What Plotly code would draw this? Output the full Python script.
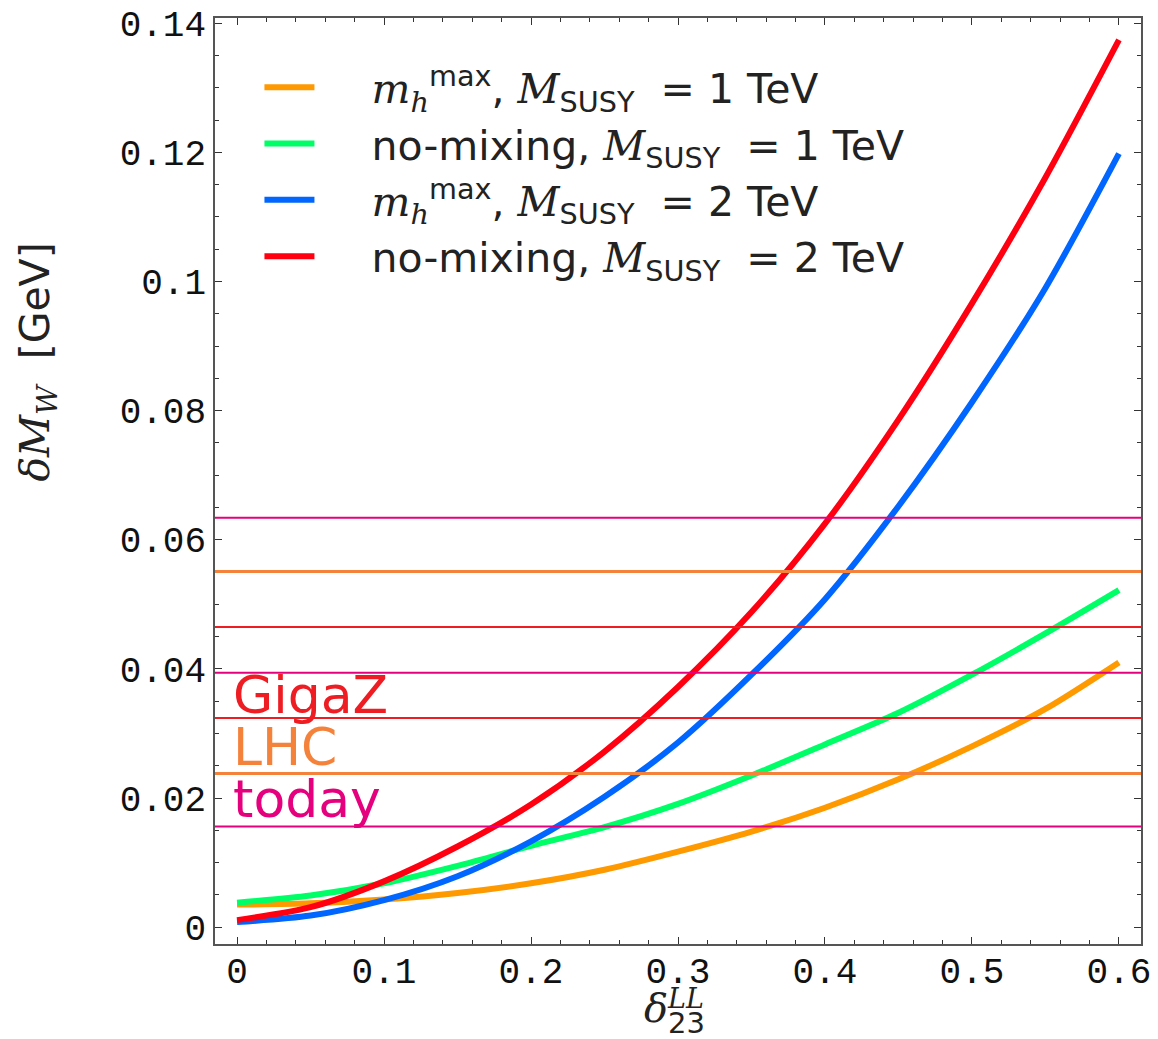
import plotly.graph_objects as go

# delta_23^LL values
delta = [0.0, 0.05, 0.10, 0.15, 0.20, 0.25, 0.30, 0.35, 0.40, 0.45, 0.50, 0.55, 0.60]

# delta M_W [GeV]
mhmax_1tev = [0.0035, 0.0037, 0.0043, 0.0053, 0.0068, 0.0089, 0.0117, 0.0148, 0.0185, 0.0229, 0.0280, 0.0338, 0.0410]
nomix_1tev = [0.0038, 0.0049, 0.0068, 0.0095, 0.0126, 0.0155, 0.0191, 0.0235, 0.0283, 0.0332, 0.0391, 0.0455, 0.0522]
mhmax_2tev = [0.0008, 0.0018, 0.0042, 0.0079, 0.0133, 0.0202, 0.0286, 0.0391, 0.0508, 0.0652, 0.0813, 0.0990, 0.1198]
nomix_2tev = [0.0011, 0.0031, 0.0071, 0.0125, 0.0190, 0.0272, 0.0372, 0.0488, 0.0625, 0.0786, 0.0966, 0.1161, 0.1374]

# experimental precision lines
today_lines = [0.0156, 0.0394, 0.0634]
lhc_lines = [0.0238, 0.0551]
gigaz_lines = [0.0324, 0.0465]

x_tickvals = [0, 0.1, 0.2, 0.3, 0.4, 0.5, 0.6]
x_ticktext = ["0", "0.1", "0.2", "0.3", "0.4", "0.5", "0.6"]
y_tickvals = [0, 0.02, 0.04, 0.06, 0.08, 0.10, 0.12, 0.14]
y_ticktext = ["0", "0.02", "0.04", "0.06", "0.08", "0.1", "0.12", "0.14"]

MAG = "#e5007e"
ORA = "#f5823a"
RED = "#ee1d23"

def it(s):
    return "<span style=\"font-family:'DejaVu Serif';font-style:italic\">" + s + "</span>"

SP = "&nbsp;" * 4
EQ = "&nbsp;&nbsp;=&nbsp;"
names = [
    SP + it("m") + "<sub>" + it("h") + "</sub><sup>max</sup>, " + it("M") + "<sub>SUSY</sub>" + EQ + "1 TeV",
    SP + "no-mixing, " + it("M") + "<sub>SUSY</sub>" + EQ + "1 TeV",
    SP + it("m") + "<sub>" + it("h") + "</sub><sup>max</sup>, " + it("M") + "<sub>SUSY</sub>" + EQ + "2 TeV",
    SP + "no-mixing, " + it("M") + "<sub>SUSY</sub>" + EQ + "2 TeV",
]
series = [mhmax_1tev, nomix_1tev, mhmax_2tev, nomix_2tev]
colors = ["#ff9900", "#00ff66", "#0066ff", "#ff0011"]

fig = go.Figure()
for name, ys, c in zip(names, series, colors):
    fig.add_trace(go.Scatter(x=delta, y=ys, mode="lines", name=name,
                             line=dict(color=c, width=6, shape="spline", smoothing=0.8)))

shapes = []
for vals, col, w in [(today_lines, MAG, 2), (lhc_lines, ORA, 3), (gigaz_lines, RED, 2)]:
    for v in vals:
        shapes.append(dict(type="line", xref="paper", x0=0, x1=1, yref="y", y0=v, y1=v,
                           line=dict(color=col, width=w), layer="above"))

annotations = [
    dict(text="GigaZ", x=-0.004, y=0.0360, xref="x", yref="y", xanchor="left", yanchor="middle",
         showarrow=False, font=dict(family="DejaVu Sans", size=52, color=RED)),
    dict(text="LHC", x=-0.004, y=0.0279, xref="x", yref="y", xanchor="left", yanchor="middle",
         showarrow=False, font=dict(family="DejaVu Sans", size=52, color=ORA)),
    dict(text="today", x=-0.004, y=0.0198, xref="x", yref="y", xanchor="left", yanchor="middle",
         showarrow=False, font=dict(family="DejaVu Sans", size=52, color=MAG)),
    dict(text=it("δM") + "<sub>" + it("W") + "</sub>&nbsp;&nbsp;[GeV]", x=-0.191, y=0.628,
         xref="paper", yref="paper", textangle=-90, showarrow=False,
         xanchor="center", yanchor="middle",
         font=dict(family="DejaVu Sans", size=41, color="#222")),
    # x-axis title: delta with stacked super/subscripts
    dict(text=it("δ"), x=0.4762, y=-0.069, xref="paper", yref="paper", showarrow=False,
         xanchor="center", yanchor="middle",
         font=dict(family="DejaVu Serif", size=40, color="#222")),
    dict(text=it("LL"), x=0.4855, y=-0.059, xref="paper", yref="paper", showarrow=False,
         xanchor="left", yanchor="middle",
         font=dict(family="DejaVu Serif", size=27, color="#222")),
    dict(text="23", x=0.4870, y=-0.085, xref="paper", yref="paper", showarrow=False,
         xanchor="left", yanchor="middle",
         font=dict(family="DejaVu Sans", size=29, color="#222")),
]

axis_common = dict(showline=True, linecolor="#555", linewidth=1.5, mirror="ticks",
                   ticks="inside", ticklen=7, tickwidth=1, tickcolor="#333",
                   showgrid=False, zeroline=False, automargin=False,
                   tickfont=dict(family="Liberation Mono", size=36, color="#111"))

fig.update_layout(
    width=1158, height=1039,
    margin=dict(l=215, r=17, t=18, b=95),
    paper_bgcolor="white", plot_bgcolor="white",
    showlegend=True,
    legend=dict(x=0.048, y=0.961, xanchor="left", yanchor="top",
                font=dict(family="DejaVu Sans", size=41, color="#222"),
                bgcolor="rgba(0,0,0,0)", itemwidth=50, tracegroupgap=0),
    shapes=shapes,
    annotations=annotations,
    xaxis=dict(range=[-0.015, 0.615], tickvals=x_tickvals, ticktext=x_ticktext,
               ticklabelstandoff=-6,
               minor=dict(dtick=0.02, tick0=0, ticks="inside", ticklen=4, tickcolor="#333"),
               **axis_common),
    yaxis=dict(range=[-0.0026, 0.1408], tickvals=y_tickvals, ticktext=y_ticktext,
               minor=dict(dtick=0.005, tick0=0, ticks="inside", ticklen=4, tickcolor="#333"),
               **axis_common),
)

fig.write_html("out.html")
